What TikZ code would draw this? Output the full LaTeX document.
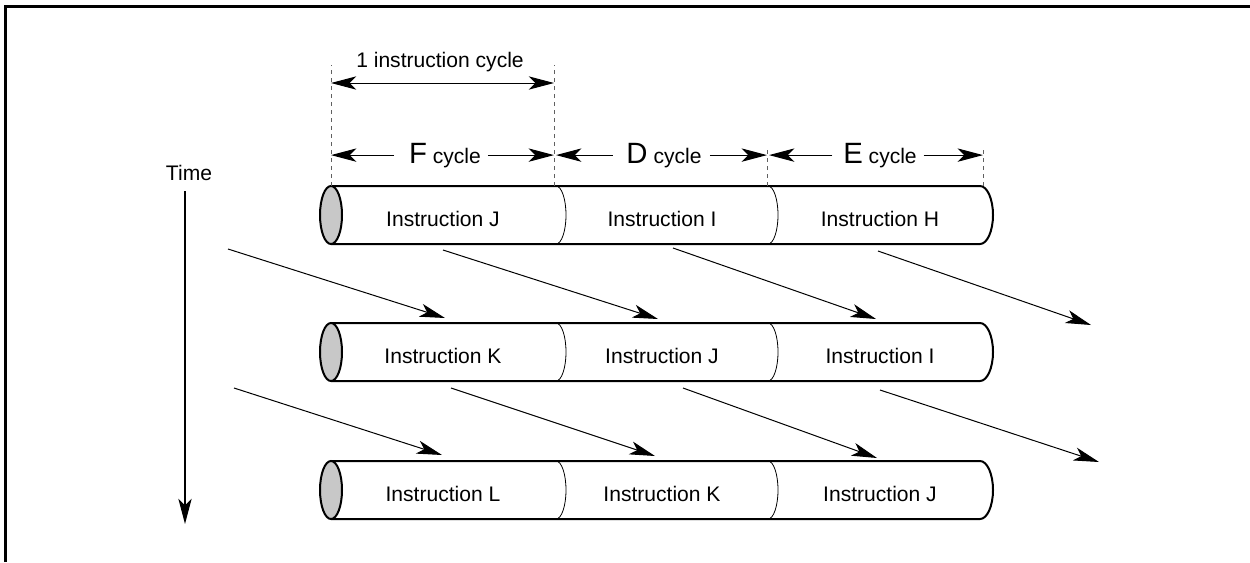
\documentclass[tikz,border=0pt]{standalone}
\usepackage{fontspec}
\setmainfont{Liberation Sans}
\usetikzlibrary{arrows.meta}
\definecolor{capgray}{HTML}{C8C8C8}
\definecolor{guidegray}{HTML}{606060}
\newcommand\bigletter{\fontsize{22}{26}\selectfont}
\begin{document}
\begin{tikzpicture}[x=0.75pt,y=-0.75pt,
  head/.style={-{Stealth[length=19pt,width=10pt,inset=5pt]}},
  heads/.style={{Stealth[length=19pt,width=10pt,inset=5pt]}-{Stealth[length=19pt,width=10pt,inset=5pt]}},
  flow/.style={head,line width=0.75pt},
  dimline/.style={line width=0.75pt},
  guide/.style={draw=guidegray,line width=0.75pt,dash pattern=on 3pt off 3pt},
  shell/.style={line width=1.5pt},
  joint/.style={line width=0.6pt},
  txt/.style={font=\fontsize{15.8}{18}\selectfont,inner sep=0pt,anchor=base},
]
\useasboundingbox (0,0) rectangle (1250,562);

% frame rule along the top and left edges
\draw[line width=2.25pt] (5.5,562) -- (5.5,6.5) -- (1250,6.5);

% three pipeline stages, one row per time step
\foreach \r/\yt/\ia/\ib/\ic in {1/186/J/I/H, 2/323/K/J/I, 3/461/L/K/J}{
  \draw[shell] (331,\yt) -- (980,\yt)
     arc[start angle=-90,end angle=90,x radius=13,y radius=29]
     -- (331,{\yt+58});
  \draw[joint] (556,\yt) arc[start angle=-90,end angle=90,x radius=10,y radius=29];
  \draw[joint] (768,\yt) arc[start angle=-90,end angle=90,x radius=10,y radius=29];
  \draw[shell,fill=capgray] (331,{\yt+29}) ellipse[x radius=11,y radius=29];
  \node[txt] (r\r-f) at (443,{\yt+40}) {Instruction \ia};
  \node[txt] (r\r-d) at (662,{\yt+40}) {Instruction \ib};
  \node[txt] (r\r-e) at (880,{\yt+40}) {Instruction \ic};
}

% stage boundaries
\coordinate (g1) at (331,186);
\coordinate (g2) at (554,186);
\coordinate (g3) at (767,186);
\coordinate (g4) at (983,186);
\draw[guide] (g1) -- (331,65);
\draw[guide] (g2) -- (554,65);
\draw[guide] (g3) -- (767,150);
\draw[guide] (g4) -- (983,150);

% one instruction cycle
\node[txt] (cyc) at (440,67) {1 instruction cycle};
\coordinate (c1) at (331,83);
\coordinate (c2) at (554,83);
\draw[dimline,heads] (c1) -- (c2);

% stage labels with span arrows
\node[txt] (flab) at (445,163) {{\bigletter F} cycle};
\node[txt] (dlab) at (664,163) {{\bigletter D} cycle};
\node[txt] (elab) at (880,163) {{\bigletter E} cycle};
\draw[dimline,head] ([xshift=-11pt]flab.west) -- (g1 |- flab.west);
\draw[dimline,head] ([xshift=5pt]flab.east) -- (g2 |- flab.east);
\draw[dimline,head] ([xshift=-10pt]dlab.west) -- ([xshift=1.5pt]g2 |- dlab.west);
\draw[dimline,head] ([xshift=6pt]dlab.east) -- (g3 |- dlab.east);
\draw[dimline,head] ([xshift=-8pt]elab.west) -- ([xshift=1.5pt]g3 |- elab.west);
\draw[dimline,head] ([xshift=5pt]elab.east) -- (g4 |- elab.east);

% time axis
\node[txt] (time) at (189,180) {Time};
\coordinate (t0) at (185,191);
\coordinate (t1) at (185,524);
\draw[head,line width=1.1pt] (t0) -- (t1);

% instructions advancing from one row to the next
\foreach \n/\xa/\ya/\xb/\yb in {
  a1/228/249/445/318, a2/443/250/658/319, a3/673/248/876/319, a4/878/251/1091/325,
  b1/234/388/442/455, b2/451/388/655/456, b3/683/388/877/458, b4/880/390/1099/462}{
  \coordinate (\n-s) at (\xa,\yb-\yb+\ya);
  \coordinate (\n-t) at (\xb,\yb);
  \draw[flow] (\n-s) -- (\n-t);
}
\end{tikzpicture}
\end{document}
